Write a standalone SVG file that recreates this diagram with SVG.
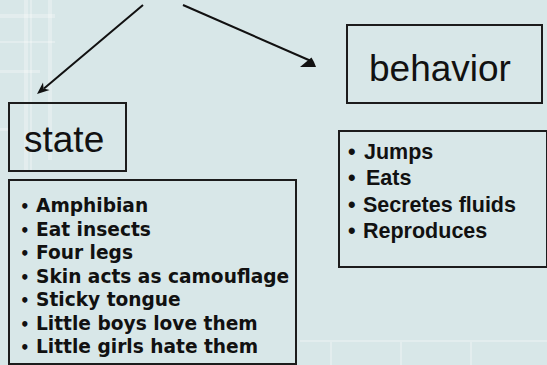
<svg xmlns="http://www.w3.org/2000/svg" width="547" height="365" viewBox="0 0 547 365">
  <style>
    .box { fill: none; stroke: #1c1c1c; stroke-width: 2; }
    .title { font-family: "Liberation Sans", Arial, sans-serif; font-size: 37px; fill: #111; }
    .item-a { font-family: "DejaVu Sans", Verdana, sans-serif; font-weight: bold; font-size: 18.6px; fill: #111; }
    .item-b { font-family: "Liberation Sans", Arial, sans-serif; font-weight: bold; font-size: 21.5px; fill: #111; }
    .dot-a { font-size: 15px; }
    .link { fill: none; stroke: #111; stroke-width: 2; }
    .head { fill: #111; stroke: none; }
    .plaid { fill: #ffffff; opacity: 0.28; }
  </style>

  <!-- page background with a faint plaid texture on the left and bottom -->
  <rect width="547" height="365" fill="#d8e7e8"/>
  <g id="texture">
    <rect class="plaid" x="24" y="0" width="4" height="170"/>
    <rect class="plaid" x="30" y="0" width="2" height="170"/>
    <rect class="plaid" x="48" y="0" width="4" height="160"/>
    <rect class="plaid" x="0" y="14" width="55" height="4"/>
    <rect class="plaid" x="0" y="41" width="55" height="2"/>
    <rect class="plaid" x="0" y="70" width="40" height="3"/>
    <rect class="plaid" x="0" y="128" width="10" height="3"/>
    <rect class="plaid" x="300" y="340" width="247" height="2" opacity="0.15"/>
    <rect class="plaid" x="330" y="342" width="2" height="23" opacity="0.15"/>
    <rect class="plaid" x="400" y="342" width="2" height="23" opacity="0.15"/>
    <rect class="plaid" x="470" y="342" width="2" height="23" opacity="0.15"/>
  </g>

  <!-- connectors -->
  <g id="connectors">
    <line class="link" x1="143" y1="5" x2="44" y2="88.6"/>
    <polygon class="head" points="37,94 43,82.4 43.6,88.6 49.6,90"/>
    <line class="link" x1="183" y1="5" x2="311" y2="61"/>
    <polygon class="head" points="300,67 316,67 314,62 311.5,57.5 306,62"/>
  </g>

  <!-- state node -->
  <g id="state">
    <rect class="box" x="9" y="103" width="117" height="68"/>
    <text class="title" x="24" y="152">state</text>
  </g>

  <!-- state attributes -->
  <g id="state-list">
    <rect class="box" x="9" y="180" width="287" height="184"/>
    <text class="item-a" y="212"><tspan class="dot-a" x="20">•</tspan><tspan x="36">Amphibian</tspan></text>
    <text class="item-a" y="235.5"><tspan class="dot-a" x="20">•</tspan><tspan x="36">Eat insects</tspan></text>
    <text class="item-a" y="259"><tspan class="dot-a" x="20">•</tspan><tspan x="36">Four legs</tspan></text>
    <text class="item-a" y="282.5"><tspan class="dot-a" x="20">•</tspan><tspan x="36">Skin acts as camouflage</tspan></text>
    <text class="item-a" y="306"><tspan class="dot-a" x="20">•</tspan><tspan x="36">Sticky tongue</tspan></text>
    <text class="item-a" y="329.5"><tspan class="dot-a" x="20">•</tspan><tspan x="36">Little boys love them</tspan></text>
    <text class="item-a" y="353"><tspan class="dot-a" x="20">•</tspan><tspan x="36">Little girls hate them</tspan></text>
  </g>

  <!-- behavior node -->
  <g id="behavior">
    <rect class="box" x="347" y="25" width="195" height="78"/>
    <text class="title" x="369" y="81">behavior</text>
  </g>

  <!-- behavior attributes -->
  <g id="behavior-list">
    <rect class="box" x="339" y="131" width="208" height="136"/>
    <text class="item-b" y="159"><tspan x="348">•</tspan><tspan x="364">Jumps</tspan></text>
    <text class="item-b" y="185"><tspan x="348">•</tspan><tspan x="366">Eats</tspan></text>
    <text class="item-b" y="212"><tspan x="348">•</tspan><tspan x="363">Secretes fluids</tspan></text>
    <text class="item-b" y="238"><tspan x="348">•</tspan><tspan x="363">Reproduces</tspan></text>
  </g>
</svg>
